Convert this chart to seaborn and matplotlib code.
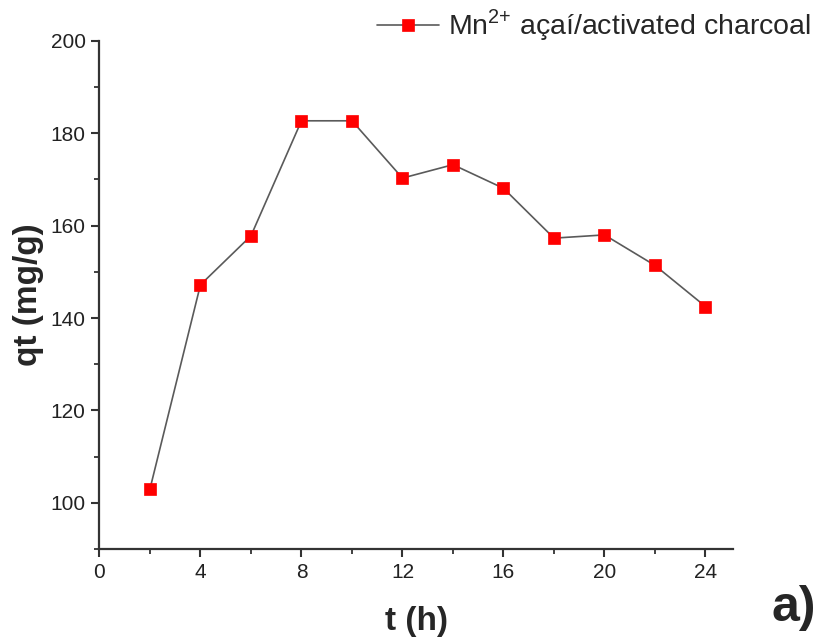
import matplotlib
matplotlib.use("Agg")
import matplotlib.pyplot as plt
from matplotlib.ticker import MultipleLocator
import seaborn as sns
import pandas as pd

time_h = [2, 4, 6, 8, 10, 12, 14, 16, 18, 20, 22, 24]
qt_mg_g = [103.0, 147.2, 157.8, 182.7, 182.7, 170.3, 173.2, 168.1, 157.3, 158.0, 151.4, 142.5]
series_label = "Mn$^{2{+}}$ açaí/activated charcoal"

sns.set_theme(style="white")
plt.rcParams["font.family"] = ["Liberation Sans", "DejaVu Sans"]
plt.rcParams["mathtext.fontset"] = "custom"
plt.rcParams["mathtext.rm"] = "Liberation Sans"

df = pd.DataFrame({"t": time_h, "qt": qt_mg_g})

fig = plt.figure(figsize=(8.22, 6.44), dpi=100)
ax = fig.add_axes([0.121, 0.1475, 0.771, 0.789])

sns.lineplot(data=df, x="t", y="qt", ax=ax, color="#5a5a5a", linewidth=1.2,
             marker="s", markersize=8, markerfacecolor="#ff0000",
             markeredgecolor="#ff0000", markeredgewidth=0.5, label=series_label)

ax.set_xlim(0, 25.1)
ax.set_ylim(90, 200)
ax.xaxis.set_major_locator(MultipleLocator(4))
ax.xaxis.set_minor_locator(MultipleLocator(2))
ax.yaxis.set_major_locator(MultipleLocator(20))
ax.yaxis.set_minor_locator(MultipleLocator(10))
ax.set_yticks([100, 120, 140, 160, 180, 200])

for side in ("top", "right"):
    ax.spines[side].set_visible(False)
for side in ("left", "bottom"):
    ax.spines[side].set_linewidth(1.6)
    ax.spines[side].set_color("#333333")

ax.tick_params(axis="both", which="major", direction="out", length=6, width=1.5,
               color="#333333", labelsize=15, labelcolor="#222222", pad=4,
               left=True, bottom=True)
ax.tick_params(axis="both", which="minor", direction="out", length=3.5, width=1.3,
               color="#333333", left=True, bottom=True)

ax.set_xlabel("t (h)", fontsize=24, fontweight="bold", labelpad=17)
ax.set_ylabel("qt (mg/g)", fontsize=24, fontweight="bold", labelpad=5)

leg = ax.legend(loc="upper right", bbox_to_anchor=(1.14, 1.088), frameon=False,
                fontsize=20.5, handlelength=2.2, handletextpad=0.3, borderaxespad=0)

fig.text(0.966, 0.056, "a)", fontsize=36, fontweight="bold", ha="center", va="center")

fig.savefig("out.png", dpi=100)
